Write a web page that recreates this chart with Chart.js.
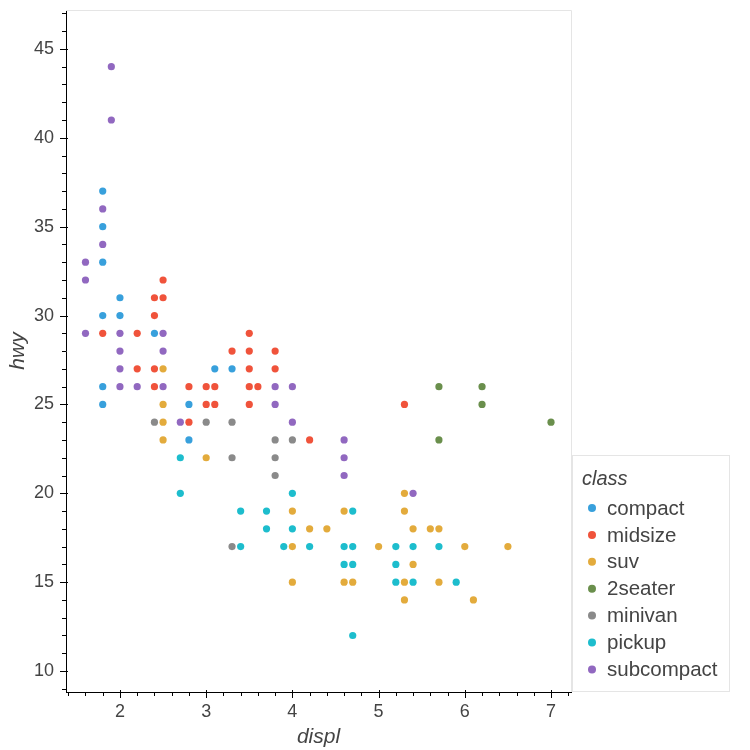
<!DOCTYPE html>
<html>
<head>
<meta charset="utf-8">
<script src="https://cdn.jsdelivr.net/npm/chart.js@4.4.1/dist/chart.umd.min.js"></script>
<style>
  html, body { margin: 0; padding: 0; background: #fff; }
  #wrap { width: 750px; height: 750px; position: relative; }
</style>
</head>
<body>
<div id="wrap"><canvas id="c" width="750" height="750"></canvas></div>
<script>
// ---- data (displ, hwy), grouped by class ----
const classes = ['compact', 'midsize', 'suv', '2seater', 'minivan', 'pickup', 'subcompact'];

const compactPts = [[1.8,37],[1.8,35],[1.8,33],[2.0,31],[1.8,30],[2.0,30],[2.4,29],[3.1,27],
  [3.3,27],[1.8,26],[1.8,25],[2.8,25],[2.8,23]];
const midsizePts = [[2.5,32],[2.4,31],[2.5,31],[2.4,30],[1.8,29],[2.2,29],[3.5,29],[3.3,28],
  [3.5,28],[3.8,28],[2.2,27],[2.4,27],[3.5,27],[3.8,27],[2.4,26],[2.8,26],[3.0,26],[3.1,26],
  [3.5,26],[3.6,26],[3.0,25],[3.1,25],[3.5,25],[2.8,24],[4.2,23],[5.3,25]];
const suvPts = [[2.5,27],[2.5,25],[2.5,24],[2.5,23],[3.0,22],[4.0,19],[4.6,19],[5.3,20],[5.3,19],
  [4.2,18],[4.4,18],[5.4,18],[5.6,18],[5.7,18],[4.0,17],[5.0,17],[6.0,17],[6.5,17],[5.4,16],
  [4.0,15],[4.6,15],[4.7,15],[5.3,15],[5.7,15],[5.3,14],[6.1,14]];
const twoSeaterPts = [[5.7,26],[6.2,26],[6.2,25],[7.0,24],[5.7,23]];
const minivanPts = [[2.4,24],[3.0,24],[3.3,24],[3.8,23],[4.0,23],[3.3,22],[3.8,22],[3.8,21],[3.3,17]];
const pickupPts = [[2.7,22],[2.7,20],[4.0,20],[3.4,19],[3.7,19],[4.7,19],[3.7,18],[4.0,18],[3.4,17],
  [3.9,17],[4.2,17],[4.6,17],[4.7,17],[5.2,17],[5.4,17],[5.7,17],[4.6,16],[4.7,16],[5.2,16],
  [5.2,15],[5.4,15],[5.9,15],[4.7,12]];
const subcompactPts = [[1.9,44],[1.9,41],[1.8,36],[1.8,34],[1.6,33],[1.6,32],[1.6,29],[2.0,29],
  [2.5,29],[2.0,28],[2.5,28],[2.0,27],[2.0,26],[2.2,26],[2.5,26],[2.7,24],[3.8,26],[4.0,26],
  [3.8,25],[4.0,24],[4.6,23],[4.6,22],[4.6,21],[5.4,20]];

const classPoints = [compactPts, midsizePts, suvPts, twoSeaterPts, minivanPts, pickupPts, subcompactPts];

const xTicks = [2, 3, 4, 5, 6, 7];
const yTicks = [10, 15, 20, 25, 30, 35, 40, 45];
const xRange = [1.374, 7.232];
const yRange = [8.82, 47.19];

// ---- styles ----
const colors = ['#38a0dc', '#f0533b', '#e3ab3c', '#6a8f4c', '#8a8a8a', '#1dbdcd', '#9168c0'];
const FONT = "'Liberation Sans', Arial, sans-serif";
const TEXT = '#444444';

// axis ticks (major + minor) and the light outline, bokeh style
const frameTicks = {
  id: 'frameTicks',
  beforeDatasetsDraw(chart) {
    const { ctx, chartArea: a } = chart;
    ctx.save();
    ctx.strokeStyle = '#e5e5e5';
    ctx.lineWidth = 1;
    ctx.beginPath();
    ctx.moveTo(a.left, a.top + 0.5);
    ctx.lineTo(a.right + 0.5, a.top + 0.5);
    ctx.lineTo(a.right + 0.5, a.bottom);
    ctx.stroke();
    ctx.restore();
  },
  afterDraw(chart) {
    const { ctx, chartArea: a, scales } = chart;
    const xs = scales.x, ys = scales.y;
    ctx.save();
    ctx.strokeStyle = '#000';
    ctx.lineWidth = 1;
    ctx.beginPath();
    // x: minor every 0.2, major every 1
    for (let k = Math.ceil(xs.min * 5); k <= Math.floor(xs.max * 5); k++) {
      const px = Math.round(xs.getPixelForValue(k / 5)) + 0.5;
      const major = k % 5 === 0;
      ctx.moveTo(px, a.bottom - (major ? 2 : 0));
      ctx.lineTo(px, a.bottom + (major ? 6 : 4));
    }
    // y: minor every 1, major every 5
    for (let k = Math.ceil(ys.min); k <= Math.floor(ys.max); k++) {
      const py = Math.round(ys.getPixelForValue(k)) + 0.5;
      const major = k % 5 === 0;
      ctx.moveTo(a.left + (major ? 2 : 0), py);
      ctx.lineTo(a.left - (major ? 6 : 4), py);
    }
    ctx.stroke();
    ctx.restore();
  }
};

// legend box outside the frame, lower right
const classLegend = {
  id: 'classLegend',
  afterDraw(chart) {
    const { ctx, chartArea: a } = chart;
    const left = a.right + 1, top = 455, right = 729, bottom = a.bottom - 1;
    ctx.save();
    ctx.fillStyle = '#fff';
    ctx.fillRect(left, top, right - left, bottom - top);
    ctx.strokeStyle = '#e5e5e5';
    ctx.lineWidth = 1;
    ctx.strokeRect(left + 0.5, top + 0.5, right - left, bottom - top);

    ctx.textBaseline = 'middle';
    ctx.textAlign = 'left';
    ctx.fillStyle = TEXT;
    ctx.font = 'italic 20px ' + FONT;
    ctx.fillText('class', 582, 479);

    ctx.font = '20.5px ' + FONT;
    chart.data.datasets.forEach((ds, i) => {
      const y = 508 + i * 26.9;
      ctx.beginPath();
      ctx.fillStyle = ds.backgroundColor;
      ctx.arc(592, y, 4, 0, Math.PI * 2);
      ctx.fill();
      ctx.fillStyle = TEXT;
      ctx.fillText(ds.label, 607, y + 1);
    });
    ctx.restore();
  }
};

const datasets = classes.map((name, i) => ({
  label: name,
  data: classPoints[i].map(p => ({ x: p[0], y: p[1] })),
  backgroundColor: colors[i],
  borderColor: colors[i],
  borderWidth: 0,
  pointRadius: 3.6,
  pointHoverRadius: 3.6
}));

new Chart(document.getElementById('c').getContext('2d'), {
  type: 'scatter',
  data: { datasets: datasets },
  plugins: [frameTicks, classLegend],
  options: {
    responsive: false,
    animation: false,
    layout: { padding: { left: 0, top: 10, right: 179, bottom: 0 } },
    scales: {
      x: {
        type: 'linear',
        min: xRange[0],
        max: xRange[1],
        afterBuildTicks: (s) => { s.ticks = xTicks.map(v => ({ value: v })); },
        afterFit: (s) => { s.height = 58; s.paddingLeft = 0; s.paddingRight = 0; },
        grid: { display: false, drawTicks: false },
        border: { display: true, color: '#000', width: 1 },
        ticks: { color: TEXT, font: { family: FONT, size: 18 }, padding: 9, maxRotation: 0 },
        title: {
          display: true, text: 'displ', color: TEXT,
          font: { family: FONT, size: 21, style: 'italic' },
          padding: { top: 0, bottom: 0 }
        }
      },
      y: {
        type: 'linear',
        min: yRange[0],
        max: yRange[1],
        afterBuildTicks: (s) => { s.ticks = yTicks.map(v => ({ value: v })); },
        afterFit: (s) => { s.width = 66; s.paddingTop = 0; s.paddingBottom = 0; },
        grid: { display: false, drawTicks: false },
        border: { display: true, color: '#000', width: 1 },
        ticks: { color: TEXT, font: { family: FONT, size: 18 }, padding: 12 },
        title: {
          display: true, text: 'hwy', color: TEXT,
          font: { family: FONT, size: 21, style: 'italic' },
          padding: { top: 6, bottom: 0 }
        }
      }
    },
    plugins: {
      legend: { display: false },
      tooltip: { enabled: false }
    }
  }
});
</script>
</body>
</html>
